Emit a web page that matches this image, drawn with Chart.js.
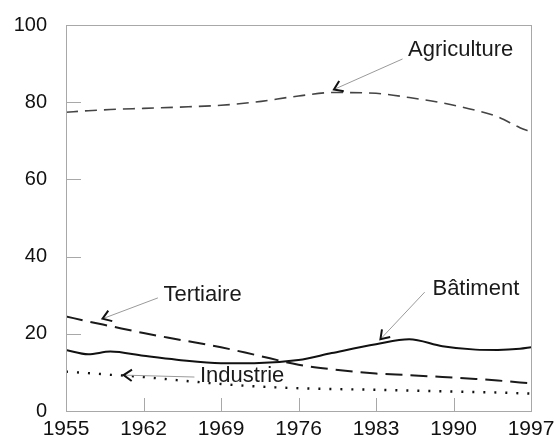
<!DOCTYPE html>
<html>
<head>
<meta charset="utf-8">
<script src="https://cdn.jsdelivr.net/npm/chart.js@4/dist/chart.umd.min.js"></script>
<style>
  html, body { margin: 0; padding: 0; background: #fff; }
  #wrap { width: 556px; height: 435px; }
</style>
</head>
<body>
<div id="wrap"><canvas id="chart"></canvas></div>
<script>
// ---- data ----
const years       = [1955, 1957, 1959, 1962, 1965, 1969, 1972, 1976, 1979, 1983, 1986, 1989, 1992, 1994, 1996, 1997];
const agriculture = [77.4, 77.8, 78.1, 78.4, 78.7, 79.2, 80.0, 81.6, 82.5, 82.3, 81.2, 79.8, 77.9, 76.2, 73.4, 72.3];
const tertiaire   = [24.5, 23.2, 22.0, 20.2, 18.6, 16.5, 14.6, 12.0, 10.8, 9.7, 9.3, 8.8, 8.3, 7.9, 7.4, 7.2];
const batiment    = [15.8, 14.7, 15.4, 14.3, 13.3, 12.4, 12.4, 13.2, 15.0, 17.3, 18.6, 16.8, 15.9, 15.8, 16.1, 16.5];
const industrie   = [10.2, 9.8, 9.4, 8.8, 8.0, 7.0, 6.4, 5.9, 5.7, 5.5, 5.3, 5.1, 4.9, 4.8, 4.6, 4.5];

const xTicks = [1955, 1962, 1969, 1976, 1983, 1990, 1997];
const yTicks = [0, 20, 40, 60, 80, 100];

// labels with leader lines: text anchor, line start, arrow tip (data units)
const labels = [
  { text: 'Agriculture', tx: 1985.9, ty: 92.0, sx: 1985.4, sy: 91.2, px: 1979.2, py: 83.3 },
  { text: 'Tertiaire',   tx: 1963.8, ty: 28.6, sx: 1963.3, sy: 29.3, px: 1958.3, py: 23.9 },
  { text: 'Bâtiment',    tx: 1988.1, ty: 30.1, sx: 1987.4, sy: 30.8, px: 1983.4, py: 18.6 },
  { text: 'Industrie',   tx: 1967.1, ty: 7.5,  sx: 1966.6, sy: 8.8,  px: 1960.2, py: 9.3 }
];

const FONT = "'Liberation Sans', Arial, sans-serif";

function pts(values) {
  return years.map((y, i) => ({ x: y, y: values[i] }));
}

// frame, inner tick marks and the arrow labels
const decor = {
  id: 'decor',
  afterDraw(chart) {
    const ctx = chart.ctx;
    const a = chart.chartArea;
    const xs = chart.scales.x, ys = chart.scales.y;
    ctx.save();
    ctx.strokeStyle = '#a8a8a8';
    ctx.lineWidth = 1;
    ctx.strokeRect(a.left + 0.5, a.top + 0.5, a.right - a.left, a.bottom - a.top);
    ctx.beginPath();
    yTicks.slice(1, -1).forEach(v => {
      const y = Math.round(ys.getPixelForValue(v)) + 0.5;
      ctx.moveTo(a.left, y); ctx.lineTo(a.left + 15, y);
    });
    xTicks.slice(1, -1).forEach(v => {
      const x = Math.round(xs.getPixelForValue(v)) + 0.5;
      ctx.moveTo(x, a.bottom); ctx.lineTo(x, a.bottom - 13);
    });
    ctx.stroke();

    ctx.font = '22px ' + FONT;
    ctx.textBaseline = 'alphabetic';
    ctx.textAlign = 'left';
    labels.forEach(l => {
      const sx = xs.getPixelForValue(l.sx), sy = ys.getPixelForValue(l.sy);
      const px = xs.getPixelForValue(l.px), py = ys.getPixelForValue(l.py);
      ctx.strokeStyle = '#9a9a9a';
      ctx.lineWidth = 1;
      ctx.beginPath(); ctx.moveTo(sx, sy); ctx.lineTo(px, py); ctx.stroke();
      // open arrow head
      const ang = Math.atan2(py - sy, px - sx);
      const len = 10, spread = 0.6;
      ctx.strokeStyle = '#111';
      ctx.lineWidth = 2;
      ctx.beginPath();
      ctx.moveTo(px - len * Math.cos(ang - spread), py - len * Math.sin(ang - spread));
      ctx.lineTo(px, py);
      ctx.lineTo(px - len * Math.cos(ang + spread), py - len * Math.sin(ang + spread));
      ctx.stroke();
      ctx.fillStyle = '#1a1a1a';
      ctx.fillText(l.text, xs.getPixelForValue(l.tx), ys.getPixelForValue(l.ty));
    });
    ctx.restore();
  }
};

new Chart(document.getElementById('chart'), {
  type: 'line',
  data: {
    datasets: [
      { label: 'Agriculture', data: pts(agriculture), borderColor: '#444', borderWidth: 1.6, borderDash: [12, 7] },
      { label: 'Tertiaire', data: pts(tertiaire), borderColor: '#1a1a1a', borderWidth: 2, borderDash: [17, 8] },
      { label: 'Bâtiment', data: pts(batiment), borderColor: '#111', borderWidth: 2 },
      { label: 'Industrie', data: pts(industrie), borderColor: '#111', borderWidth: 2.4, borderDash: [2, 9] }
    ]
  },
  options: {
    responsive: true,
    maintainAspectRatio: false,
    animation: false,
    layout: { padding: { top: 25, right: 25, left: 0, bottom: 0 } },
    elements: {
      point: { radius: 0 },
      line: { tension: 0.4, cubicInterpolationMode: 'monotone', fill: false }
    },
    plugins: { legend: { display: false }, tooltip: { enabled: false } },
    scales: {
      x: {
        type: 'linear',
        min: 1955, max: 1997,
        grid: { display: false, drawTicks: false },
        border: { display: false },
        afterBuildTicks: s => { s.ticks = xTicks.map(v => ({ value: v })); },
        afterFit: s => { s.height = 24; },
        ticks: {
          color: '#111', font: { family: FONT, size: 21, lineHeight: 1.6 }, padding: 1, maxRotation: 0, autoSkip: false,
          callback: v => String(v)
        }
      },
      y: {
        min: 0, max: 100,
        grid: { display: false, drawTicks: false },
        border: { display: false },
        afterBuildTicks: s => { s.ticks = yTicks.map(v => ({ value: v })); },
        afterFit: s => { s.width = 66; },
        ticks: { color: '#111', font: { family: FONT, size: 20, lineHeight: 0.4 }, padding: 19 }
      }
    }
  },
  plugins: [decor]
});
</script>
</body>
</html>
